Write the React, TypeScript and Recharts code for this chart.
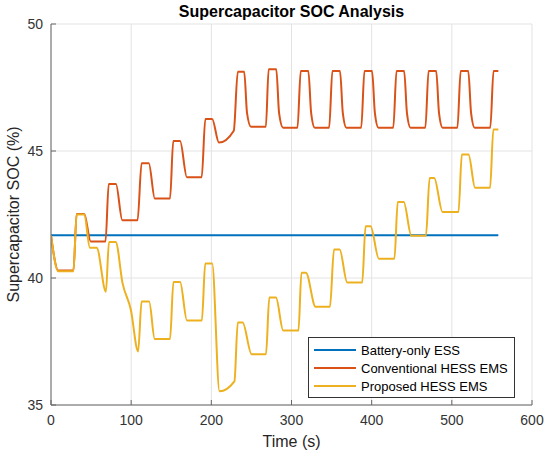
import { LineChart, Line, XAxis, YAxis, CartesianGrid, Legend } from "recharts";

const xTicks = [0, 100, 200, 300, 400, 500, 600];
const yTicks = [35, 40, 45, 50];

const batteryTime = [0, 558];
const batterySoc = [41.68, 41.68];

const conventionalTime = [
  0, 9, 28, 32, 41.5, 49.5, 68, 72, 81, 89, 108, 113, 122, 129.5, 148.5, 152.5,
  161, 169.5, 188, 192.5, 201, 209.5, 228, 233, 241, 244.5, 249.5, 268, 271.5,
  281, 284.5, 289.5, 307.5, 311.5, 321, 324.5, 329, 347, 351, 360.5, 364, 368.5,
  387, 391, 400.5, 404, 408.5, 427, 431, 440.5, 444, 448.5, 467, 471, 480.5, 484,
  488.5, 507, 511, 520.5, 524, 528.5, 548, 552, 558,
];
const conventionalSoc = [
  41.68, 40.3, 40.3, 42.52, 42.52, 41.44, 41.44, 43.7, 43.7, 42.27, 42.27, 44.52,
  44.52, 43.13, 43.13, 45.39, 45.39, 43.97, 43.97, 46.26, 46.26, 45.33, 45.8,
  48.12, 48.12, 46.5, 45.95, 45.95, 48.22, 48.22, 46.5, 45.92, 45.92, 48.15,
  48.15, 46.5, 45.92, 45.92, 48.15, 48.15, 46.5, 45.92, 45.92, 48.15, 48.15,
  46.5, 45.92, 45.92, 48.15, 48.15, 46.5, 45.92, 45.92, 48.15, 48.15, 46.5,
  45.92, 45.92, 48.15, 48.15, 46.5, 45.92, 45.92, 48.15, 48.15,
];

const proposedTime = [
  0, 9, 28, 32, 41.5, 48.5, 57, 68.5, 72.3, 80.7, 89.3, 99.6, 108.7, 113, 122.4,
  129.4, 148.5, 152.7, 161, 169.6, 188.2, 192.4, 201, 210.2, 228.8, 233, 239,
  250.3, 268.2, 272.3, 280.6, 289.7, 308.7, 312.4, 318, 330, 348, 353, 360,
  369.6, 388.2, 392.4, 398.6, 409, 428.4, 432.5, 440, 449.5, 467.7, 472.3, 478,
  488.4, 508.3, 512.5, 520.8, 529, 547.7, 551.8, 558,
];
const proposedSoc = [
  41.68, 40.27, 40.27, 42.5, 42.5, 41.19, 41.19, 39.46, 41.42, 41.42, 39.79,
  38.75, 37.11, 39.07, 39.07, 37.6, 37.6, 39.84, 39.84, 38.33, 38.33, 40.57,
  40.57, 35.54, 35.93, 38.25, 38.25, 37.0, 37.0, 39.23, 39.23, 37.93, 37.93,
  40.21, 40.21, 38.87, 38.87, 41.12, 41.12, 39.82, 39.82, 42.04, 42.04, 40.76,
  40.76, 42.99, 42.99, 41.66, 41.66, 43.94, 43.94, 42.6, 42.6, 44.86, 44.86,
  43.55, 43.55, 45.85, 45.85,
];

const toPoints = (ts: number[], vs: number[]) =>
  ts.map((t, i) => ({ t, soc: vs[i] }));

const font = "'Liberation Sans', Arial, sans-serif";

function LegendBox({ payload }: any) {
  return (
    <div
      style={{
        boxSizing: "border-box",
        border: "1px solid #333",
        background: "#fff",
        padding: "3px 5px 2px 5px",
        fontFamily: font,
        fontSize: 13,
        color: "#000",
      }}
    >
      {(payload || []).map((p: any) => (
        <div key={p.value} style={{ display: "flex", alignItems: "center", height: 18 }}>
          <span
            style={{ display: "inline-block", width: 42, height: 2, background: p.color, marginRight: 5 }}
          />
          {p.value}
        </div>
      ))}
    </div>
  );
}

export default function App() {
  const tickStyle = { fontSize: 14, fill: "#333", fontFamily: font };
  return (
    <div style={{ position: "absolute", left: 0, top: 0, width: 550, height: 457, background: "#fff" }}>
      <div
        style={{
          position: "absolute",
          top: 4,
          left: 51,
          width: 481,
          textAlign: "center",
          fontFamily: font,
          fontWeight: "bold",
          fontSize: 16,
          lineHeight: "16px",
          color: "#000",
          zIndex: 2,
        }}
      >
        Supercapacitor SOC Analysis
      </div>
      <LineChart
        width={550}
        height={457}
        margin={{ top: 24, right: 18, left: 0, bottom: 0 }}
        style={{ fontFamily: font }}
      >
        <CartesianGrid stroke="#e3e3e3" />
        <XAxis
          type="number"
          dataKey="t"
          domain={[0, 600]}
          ticks={xTicks}
          allowDataOverflow
          height={52}
          tickSize={-5}
          tickMargin={15}
          tick={tickStyle}
          axisLine={{ stroke: "#666" }}
          tickLine={{ stroke: "#666" }}
          label={{ value: "Time (s)", position: "insideBottom", offset: 10, style: { fontSize: 16, fill: "#262626" } }}
        />
        <YAxis
          type="number"
          domain={[35, 50]}
          ticks={yTicks}
          allowDataOverflow
          width={51}
          tickSize={-5}
          tickMargin={13}
          tick={tickStyle}
          axisLine={{ stroke: "#666" }}
          tickLine={{ stroke: "#666" }}
          label={{
            value: "Supercapacitor SOC (%)",
            angle: -90,
            position: "insideLeft",
            offset: 13,
            style: { textAnchor: "middle", fontSize: 16, fill: "#262626" },
          }}
        />
        <Legend
          layout="vertical"
          align="center"
          verticalAlign="middle"
          wrapperStyle={{ left: 308, top: 337, width: 207 }}
          content={<LegendBox />}
        />
        <Line
          data={toPoints(batteryTime, batterySoc)}
          dataKey="soc"
          name="Battery-only ESS"
          type="linear"
          stroke="#0072BD"
          strokeWidth={2}
          dot={false}
          legendType="line"
          isAnimationActive={false}
        />
        <Line
          data={toPoints(conventionalTime, conventionalSoc)}
          dataKey="soc"
          name="Conventional HESS EMS"
          type="monotoneX"
          stroke="#D95319"
          strokeWidth={2}
          dot={false}
          legendType="line"
          isAnimationActive={false}
        />
        <Line
          data={toPoints(proposedTime, proposedSoc)}
          dataKey="soc"
          name="Proposed HESS EMS"
          type="monotoneX"
          stroke="#EDB120"
          strokeWidth={2}
          dot={false}
          legendType="line"
          isAnimationActive={false}
        />
      </LineChart>
    </div>
  );
}
